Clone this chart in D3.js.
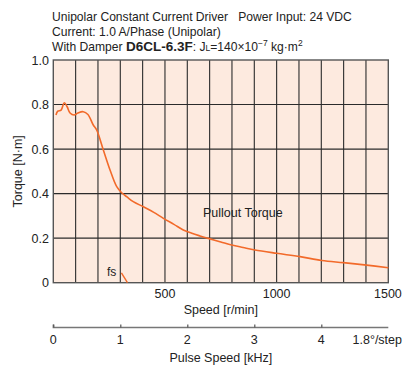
<!DOCTYPE html>
<html>
<head>
<meta charset="utf-8">
<script src="https://cdn.jsdelivr.net/npm/d3@7"></script>
<style>
  body { margin: 0; background: #fff; }
  svg text { font-family: "Liberation Sans Narrow", "Liberation Sans", Arial, sans-serif; fill: #222; }
</style>
</head>
<body>
<svg width="403" height="370"></svg>
<script>
var svg = d3.select("svg");

// pullout torque curve
var speeds = [12, 20, 35, 49, 62, 75, 93, 110, 134, 155, 179, 194, 224, 254, 284, 306, 330, 358, 403, 450, 493, 540, 582, 620, 657, 694, 750, 799, 850, 903, 1000, 1105, 1202, 1299, 1403, 1500];
var torques = [0.753, 0.77, 0.775, 0.808, 0.79, 0.762, 0.753, 0.762, 0.768, 0.755, 0.708, 0.686, 0.596, 0.506, 0.431, 0.404, 0.385, 0.364, 0.341, 0.316, 0.289, 0.262, 0.237, 0.222, 0.21, 0.199, 0.183, 0.169, 0.158, 0.147, 0.132, 0.117, 0.1, 0.09, 0.079, 0.067];
var fsSpeeds = [305, 332];
var fsTorques = [0.044, 0];

var speedTicks = [500, 1000, 1500];
var torqueTicks = [0, 0.2, 0.4, 0.6, 0.8, 1.0];
var pulseTicks = [0, 1, 2, 3, 4];

var x = d3.scaleLinear().domain([0, 1500]).range([53.3, 388.3]);
var y = d3.scaleLinear().domain([0, 1.0]).range([282.7, 60]);
// 1.8 deg/step: 1 kHz = 300 r/min
var xp = d3.scaleLinear().domain([0, 5]).range([x(0), x(1500)]);

// plot background
svg.append("rect")
  .attr("x", x(0)).attr("y", y(1))
  .attr("width", x(1500) - x(0)).attr("height", y(0) - y(1))
  .attr("fill", "#fdeadf");

// grid
svg.append("g")
  .selectAll("line")
  .data(d3.range(100, 1500, 100))
  .enter()
  .append("line")
  .attr("x1", function (d) { return x(d); })
  .attr("x2", function (d) { return x(d); })
  .attr("y1", y(0)).attr("y2", y(1))
  .attr("stroke", "#2b2b2b").attr("stroke-width", 1.1);
svg.append("g")
  .selectAll("line")
  .data([0.2, 0.4, 0.6, 0.8])
  .enter()
  .append("line")
  .attr("y1", function (d) { return y(d); })
  .attr("y2", function (d) { return y(d); })
  .attr("x1", x(0)).attr("x2", x(1500))
  .attr("stroke", "#2b2b2b").attr("stroke-width", 1.1);

// frame
svg.append("rect")
  .attr("x", x(0)).attr("y", y(1))
  .attr("width", x(1500) - x(0)).attr("height", y(0) - y(1))
  .attr("fill", "none").attr("stroke", "#555").attr("stroke-width", 1.4);

// curve
var line = d3.line()
  .x(function (d) { return x(d[0]); })
  .y(function (d) { return y(d[1]); })
  .curve(d3.curveCatmullRom);
svg.append("path")
  .datum(d3.zip(speeds, torques))
  .attr("d", line)
  .attr("fill", "none").attr("stroke", "#f26a2a").attr("stroke-width", 1.6);
svg.append("path")
  .datum(d3.zip(fsSpeeds, fsTorques))
  .attr("d", d3.line().x(function (d) { return x(d[0]); }).y(function (d) { return y(d[1]); }))
  .attr("fill", "none").attr("stroke", "#f26a2a").attr("stroke-width", 1.4);

svg.append("text").attr("x", 107).attr("y", 276).attr("font-size", 12).text("fs");
svg.append("text").attr("x", 203).attr("y", 217).attr("font-size", 12.5).text("Pullout Torque");

// y tick labels
svg.append("g")
  .selectAll("text")
  .data(torqueTicks)
  .enter()
  .append("text")
  .attr("x", 49)
  .attr("y", function (d) { return y(d) + 4.5; })
  .attr("text-anchor", "end")
  .attr("font-size", 12.5)
  .text(function (d) { return d === 0 ? "0" : d.toFixed(1); });

// x tick labels
svg.append("g")
  .selectAll("text")
  .data(speedTicks)
  .enter()
  .append("text")
  .attr("x", function (d) { return d === 1500 ? x(d) + 13.5 : x(d); })
  .attr("y", 298)
  .attr("text-anchor", function (d) { return d === 1500 ? "end" : "middle"; })
  .attr("font-size", 12.5)
  .text(function (d) { return d; });

svg.append("text")
  .attr("transform", "translate(" + ((x(0) + x(1500)) / 2) + ",314)")
  .attr("text-anchor", "middle").attr("font-size", 12.5)
  .text("Speed [r/min]");

svg.append("text")
  .attr("transform", "translate(22," + ((y(0) + y(1)) / 2) + ") rotate(-90)")
  .attr("text-anchor", "middle").attr("font-size", 12.5)
  .text("Torque [N·m]");

// pulse speed axis
var pulseAxis = d3.axisTop(xp).tickValues(pulseTicks).tickSize(3).tickFormat("");
var pg = svg.append("g").attr("transform", "translate(0,327.5)").call(pulseAxis);
pg.select(".domain").attr("d", "M" + xp(0) + ",-3V0H" + xp(5)).attr("stroke", "#777").attr("stroke-width", 1.4);
pg.selectAll(".tick line").attr("stroke", "#555").attr("stroke-width", 1.2);

svg.append("g")
  .selectAll("text")
  .data(pulseTicks)
  .enter()
  .append("text")
  .attr("x", function (d) { return xp(d); })
  .attr("y", 344)
  .attr("text-anchor", "middle")
  .attr("font-size", 12.5)
  .text(function (d) { return d; });
svg.append("text").attr("x", 402).attr("y", 344).attr("text-anchor", "end").attr("font-size", 12.5).text("1.8°/step");
svg.append("text")
  .attr("x", (x(0) + x(1500)) / 2).attr("y", 362)
  .attr("text-anchor", "middle").attr("font-size", 12.5)
  .text("Pulse Speed [kHz]");

// title
svg.append("text").attr("x", 52).attr("y", 20.5).attr("font-size", 12.1)
  .attr("xml:space", "preserve")
  .text("Unipolar Constant Current Driver   Power Input: 24 VDC");
svg.append("text").attr("x", 52).attr("y", 36).attr("font-size", 12.1)
  .text("Current: 1.0 A/Phase (Unipolar)");
var t3 = svg.append("text").attr("x", 52).attr("y", 51).attr("font-size", 12.1);
t3.append("tspan").text("With Damper ");
t3.append("tspan").attr("font-weight", "bold").attr("font-size", 13.5).attr("font-family", "Liberation Sans, Arial, sans-serif").text("D6CL-6.3F");
t3.append("tspan").text(": J");
t3.append("tspan").attr("font-size", 8.5).text("L");
t3.append("tspan").text("=140×10");
t3.append("tspan").attr("font-size", 8.5).attr("dy", -5).text("−7");
t3.append("tspan").attr("dy", 5).text(" kg·m");
t3.append("tspan").attr("font-size", 8.5).attr("dy", -5).text("2");
</script>
</body>
</html>
